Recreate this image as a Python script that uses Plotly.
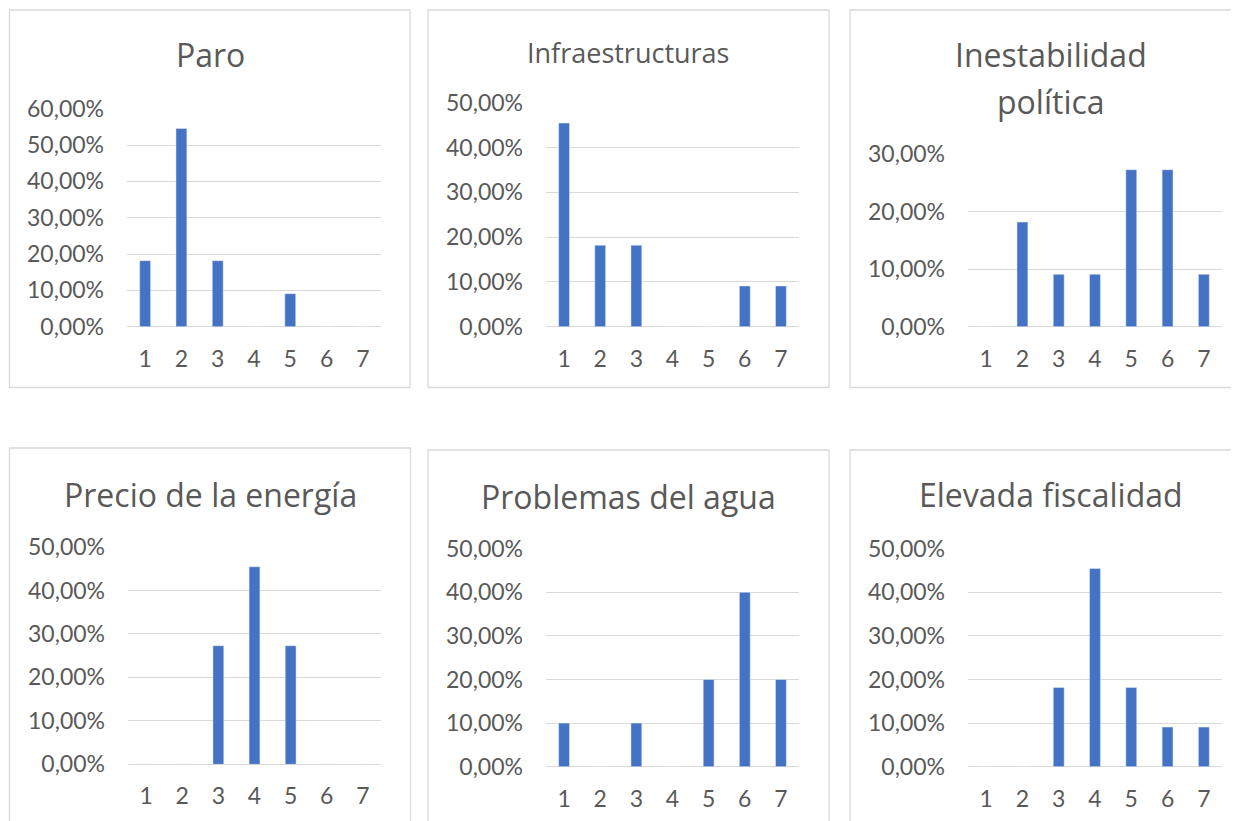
import plotly.graph_objects as go

# the page puts the figure 8px in from the top-left corner
OFF = 8
W, H = 1239 - OFF, 821 - OFF

categorias = ["1", "2", "3", "4", "5", "6", "7"]

titulos = [
    ["Paro"],
    ["Infraestructuras"],
    ["Inestabilidad", "política"],
    ["Precio de la energía"],
    ["Problemas del agua"],
    ["Elevada fiscalidad"],
]

paro = [0.1818, 0.5455, 0.1818, 0, 0.0909, 0, 0]
infraestructuras = [0.4545, 0.1818, 0.1818, 0, 0, 0.0909, 0.0909]
inestabilidad = [0, 0.1818, 0.0909, 0.0909, 0.2727, 0.2727, 0.0909]
energia = [0, 0, 0.2727, 0.4545, 0.2727, 0, 0]
agua = [0.10, 0, 0.10, 0, 0.20, 0.40, 0.20]
fiscalidad = [0, 0, 0.1818, 0.4545, 0.1818, 0.0909, 0.0909]

series = [paro, infraestructuras, inestabilidad, energia, agua, fiscalidad]
y_max = [0.6, 0.5, 0.3, 0.5, 0.5, 0.5]

# screen pixel layout of each panel: plot area, border box, title position / size
paneles = [
    dict(plot=(127, 381, 108.7, 326.7), box=(9.5, 10, 410, 387.5), title=(210, [54]), size=32),
    dict(plot=(546, 799, 102.7, 326.7), box=(428, 10, 829, 387.5), title=(628, [52]), size=27),
    dict(plot=(968, 1222, 154, 326.7), box=(850, 10, 1238, 387.5), title=(1051, [54, 101]), size=32),
    dict(plot=(128, 381, 547, 764.3), box=(9.5, 448, 410.5, 840), title=(210, [494]), size=32),
    dict(plot=(546, 799, 548.7, 766.7), box=(428, 450, 829, 840), title=(628, [496]), size=32),
    dict(plot=(968, 1222, 548.7, 766.7), box=(850, 450, 1238, 840), title=(1051, [494]), size=32),
]

AZUL = "#4472C4"
GRIS = "#D9D9D9"
TEXTO = "#595959"


def fx(px):
    return (px - OFF) / W


def fy(py):
    return 1 - (py - OFF) / H


fig = go.Figure()
shapes = []
annotations = []

for i, (valores, p) in enumerate(zip(series, paneles)):
    n = "" if i == 0 else str(i + 1)
    x0, x1, yt, yb = p["plot"]

    fig.add_trace(go.Bar(
        x=categorias,
        y=valores,
        marker_color=AZUL,
        xaxis="x" + n,
        yaxis="y" + n,
        hoverinfo="skip",
        showlegend=False
    ))

    fig.update_layout({
        "xaxis" + n: dict(
            domain=[fx(x0), fx(x1)],
            anchor="y" + n,
            type="category",
            range=[-0.5, 6.5],
            showgrid=False,
            zeroline=False,
            showline=False,
            ticks="",
            ticklabelstandoff=16,
            tickfont=dict(family="Lato", size=23, color=TEXTO),
        ),
        "yaxis" + n: dict(
            domain=[fy(yb), fy(yt)],
            anchor="x" + n,
            range=[0, y_max[i]],
            dtick=0.1,
            tickformat=".2%",
            showgrid=True,
            gridcolor=GRIS,
            gridwidth=1.3,
            zeroline=True,
            zerolinecolor=GRIS,
            zerolinewidth=1.3,
            showline=False,
            ticks="",
            ticklabelstandoff=22,
            tickfont=dict(family="Lato", size=23, color=TEXTO),
        ),
    })

    bx0, by0, bx1, by1 = p["box"]
    shapes.append(dict(
        type="rect", xref="paper", yref="paper",
        x0=fx(bx0), x1=fx(bx1), y0=fy(by1), y1=fy(by0),
        line=dict(color=GRIS, width=1.3), layer="below"
    ))

    tx, tys = p["title"]
    for linea, ty in zip(titulos[i], tys):
        annotations.append(dict(
            text=linea, xref="paper", yref="paper",
            x=fx(tx), y=fy(ty),
            xanchor="center", yanchor="middle",
            showarrow=False,
            font=dict(family="Open Sans", size=p["size"], color=TEXTO)
        ))

fig.update_layout(
    width=W,
    height=H,
    margin=dict(l=0, r=0, t=0, b=0, autoexpand=False),
    paper_bgcolor="white",
    plot_bgcolor="white",
    separators=",.",
    bargap=0.7,
    shapes=shapes,
    annotations=annotations,
)

fig.write_html("out.html", config={"displayModeBar": False})
